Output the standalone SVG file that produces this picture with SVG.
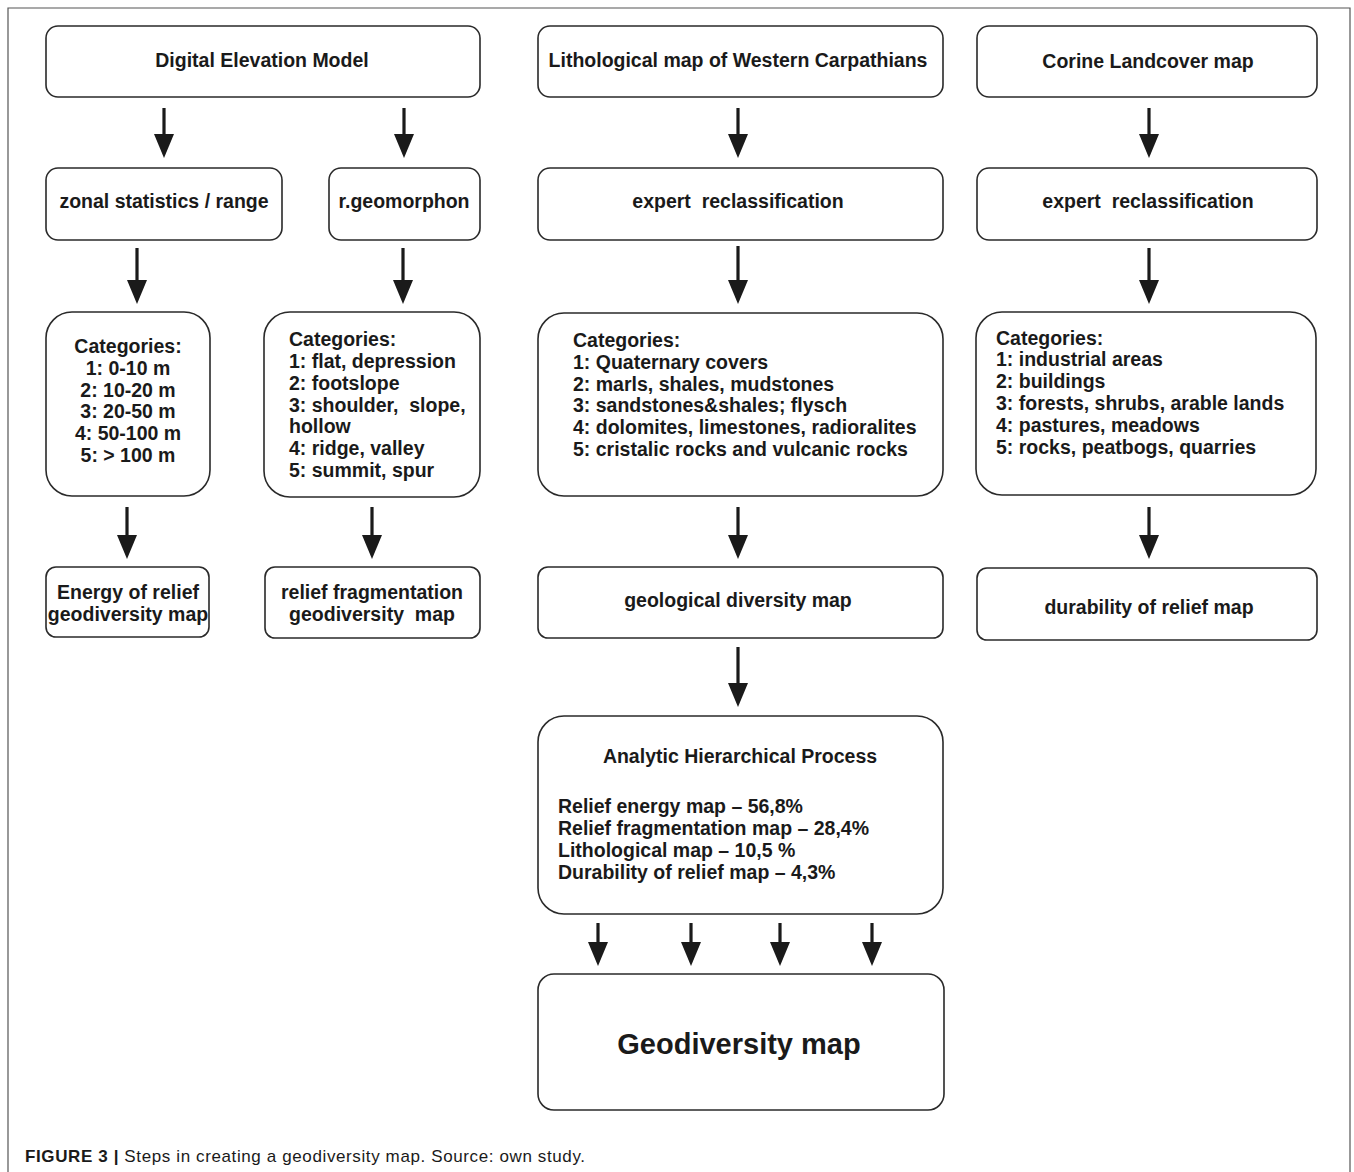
<svg xmlns="http://www.w3.org/2000/svg" width="1354" height="1172" viewBox="0 0 1354 1172">
<defs>
<style>
.box{fill:#fff;stroke:#2a2a2a;stroke-width:1.6}
.t{font-family:"Liberation Sans",Arial,sans-serif;font-weight:bold;font-size:19.5px;fill:#1a1a1a}
.c{text-anchor:middle}
.conn line{stroke:#1a1a1a;stroke-width:3.2;marker-end:url(#ah)}
</style>
<marker id="ah" markerUnits="userSpaceOnUse" markerWidth="24" markerHeight="20" refX="0" refY="10" orient="auto" viewBox="0 0 24 20">
<path d="M0,0 L24,10 L0,20 Z" fill="#1a1a1a"/>
</marker>
</defs>
<rect width="1354" height="1172" fill="#fff"/>
<path d="M8,1172 V8 H1350 V1172" fill="none" stroke="#555" stroke-width="1.2"/>

<g id="dem"><rect class="box" x="46" y="26" width="434" height="71" rx="12"/><text class="t c" x="262" y="67">Digital Elevation Model</text></g>
<g id="litho"><rect class="box" x="538" y="26" width="405" height="71" rx="12"/><text class="t c" x="738" y="67">Lithological map of Western Carpathians</text></g>
<g id="corine"><rect class="box" x="977" y="26" width="340" height="71" rx="12"/><text class="t c" x="1148" y="68">Corine Landcover map</text></g>

<g id="zonal"><rect class="box" x="46" y="168" width="236" height="72" rx="12"/><text class="t c" x="164" y="208">zonal statistics / range</text></g>
<g id="rgeo"><rect class="box" x="329" y="168" width="151" height="72" rx="12"/><text class="t c" x="404" y="208">r.geomorphon</text></g>
<g id="expert1"><rect class="box" x="538" y="168" width="405" height="72" rx="12"/><text class="t c" x="738" y="208" xml:space="preserve">expert  reclassification</text></g>
<g id="expert2"><rect class="box" x="977" y="168" width="340" height="72" rx="12"/><text class="t c" x="1148" y="208" xml:space="preserve">expert  reclassification</text></g>

<g id="cat1"><rect class="box" x="46" y="312" width="164" height="184" rx="26"/>
<text class="t c"><tspan x="128" y="353">Categories:</tspan><tspan x="128" y="375">1: 0-10 m</tspan><tspan x="128" y="397">2: 10-20 m</tspan><tspan x="128" y="418">3: 20-50 m</tspan><tspan x="128" y="440">4: 50-100 m</tspan><tspan x="128" y="462">5: &gt; 100 m</tspan></text></g>
<g id="cat2"><rect class="box" x="264" y="312" width="216" height="185" rx="26"/>
<text class="t" xml:space="preserve"><tspan x="289" y="346">Categories:</tspan><tspan x="289" y="368">1: flat, depression</tspan><tspan x="289" y="390">2: footslope</tspan><tspan x="289" y="412">3: shoulder,  slope,</tspan><tspan x="289" y="433">hollow</tspan><tspan x="289" y="455">4: ridge, valley</tspan><tspan x="289" y="477">5: summit, spur</tspan></text></g>
<g id="cat3"><rect class="box" x="538" y="313" width="405" height="183" rx="26"/>
<text class="t"><tspan x="573" y="347">Categories:</tspan><tspan x="573" y="369">1: Quaternary covers</tspan><tspan x="573" y="391">2: marls, shales, mudstones</tspan><tspan x="573" y="412">3: sandstones&amp;shales; flysch</tspan><tspan x="573" y="434">4: dolomites, limestones, radioralites</tspan><tspan x="573" y="456">5: cristalic rocks and vulcanic rocks</tspan></text></g>
<g id="cat4"><rect class="box" x="976" y="312" width="340" height="183" rx="26"/>
<text class="t"><tspan x="996" y="345">Categories:</tspan><tspan x="996" y="366">1: industrial areas</tspan><tspan x="996" y="388">2: buildings</tspan><tspan x="996" y="410">3: forests, shrubs, arable lands</tspan><tspan x="996" y="432">4: pastures, meadows</tspan><tspan x="996" y="454">5: rocks, peatbogs, quarries</tspan></text></g>

<g id="energy"><rect class="box" x="46" y="567" width="163" height="70" rx="10"/>
<text class="t c"><tspan x="128" y="599">Energy of relief</tspan><tspan x="128" y="621">geodiversity map</tspan></text></g>
<g id="frag"><rect class="box" x="265" y="567" width="215" height="71" rx="10"/>
<text class="t c" xml:space="preserve"><tspan x="372" y="599">relief fragmentation</tspan><tspan x="372" y="621">geodiversity  map</tspan></text></g>
<g id="geol"><rect class="box" x="538" y="567" width="405" height="71" rx="10"/><text class="t c" x="738" y="607">geological diversity map</text></g>
<g id="dur"><rect class="box" x="977" y="568" width="340" height="72" rx="10"/><text class="t c" x="1149" y="614">durability of relief map</text></g>

<g id="ahp"><rect class="box" x="538" y="716" width="405" height="198" rx="26"/>
<text class="t c" x="740" y="763">Analytic Hierarchical Process</text>
<text class="t"><tspan x="558" y="813">Relief energy map – 56,8%</tspan><tspan x="558" y="835">Relief fragmentation map – 28,4%</tspan><tspan x="558" y="857">Lithological map – 10,5 %</tspan><tspan x="558" y="879">Durability of relief map – 4,3%</tspan></text></g>
<g id="geodiv"><rect class="box" x="538" y="974" width="406" height="136" rx="16"/><text class="t c" x="739" y="1054" style="font-size:29px">Geodiversity map</text></g>

<g class="conn">
<line x1="164" y1="108" x2="164" y2="134"/>
<line x1="404" y1="108" x2="404" y2="134"/>
<line x1="738" y1="108" x2="738" y2="134"/>
<line x1="1149" y1="108" x2="1149" y2="134"/>
<line x1="137" y1="248" x2="137" y2="280"/>
<line x1="403" y1="248" x2="403" y2="280"/>
<line x1="738" y1="246" x2="738" y2="280"/>
<line x1="1149" y1="248" x2="1149" y2="280"/>
<line x1="127" y1="507" x2="127" y2="535"/>
<line x1="372" y1="507" x2="372" y2="535"/>
<line x1="738" y1="507" x2="738" y2="535"/>
<line x1="1149" y1="507" x2="1149" y2="535"/>
<line x1="738" y1="647" x2="738" y2="683"/>
<line x1="598" y1="923" x2="598" y2="942"/>
<line x1="691" y1="923" x2="691" y2="942"/>
<line x1="780" y1="923" x2="780" y2="942"/>
<line x1="872" y1="923" x2="872" y2="942"/>
</g>

<text x="25" y="1162" textLength="560" lengthAdjust="spacing" style="font-family:'Liberation Sans',Arial,sans-serif;font-size:17px;fill:#1a1a1a"><tspan font-weight="bold">FIGURE 3 | </tspan>Steps in creating a geodiversity map. Source: own study.</text>
</svg>
